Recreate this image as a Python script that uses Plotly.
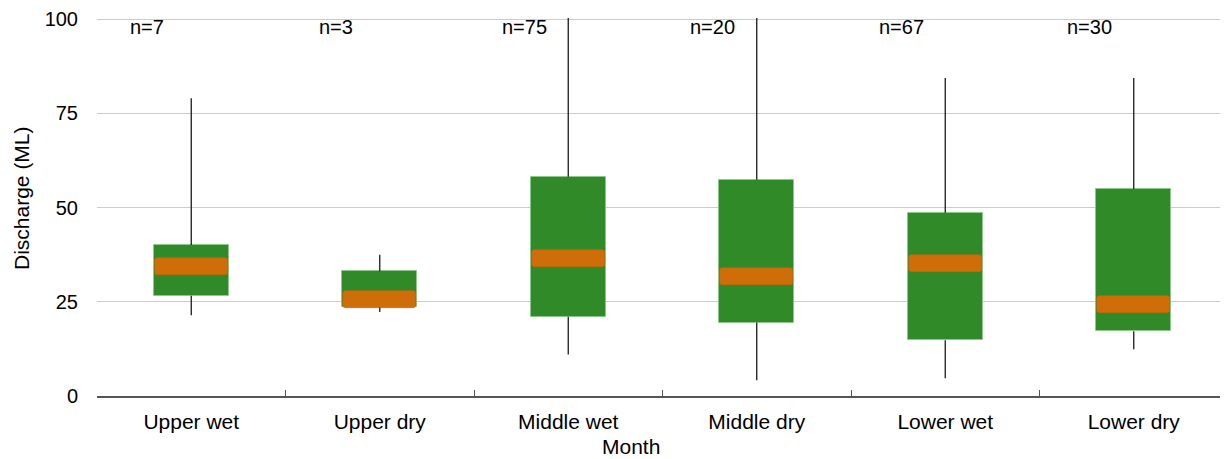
import plotly.graph_objects as go

# ---- data ----
categories = ["Upper wet", "Upper dry", "Middle wet", "Middle dry", "Lower wet", "Lower dry"]
counts = [7, 3, 75, 20, 67, 30]
whisker_low = [21.4, 22.3, 11.0, 4.2, 4.7, 12.4]
q1 = [26.6, 23.5, 21.0, 19.5, 14.8, 17.2]
median = [34.3, 25.7, 36.5, 31.7, 35.1, 24.3]
q3 = [40.1, 33.1, 58.2, 57.4, 48.6, 54.9]
whisker_high = [79.0, 37.5, 125.0, 115.0, 84.4, 84.4]
y_ticks = [0, 25, 50, 75, 100]

# ---- styles ----
GREEN = "#2f8a27"
ORANGE = "#cf6e09"
FONT = "Liberation Sans, Arial, Helvetica, sans-serif"
BAND = 4.5          # visual thickness of the median band (data units)
BOX_W = 0.40
BAND_W = 0.385

fig = go.Figure()

# whiskers (two segments per category, outside the box)
wx, wy = [], []
for c, lo, a, b, hi in zip(categories, whisker_low, q1, q3, whisker_high):
    wx += [c, c, None, c, c, None]
    wy += [lo, a, None, b, hi, None]
fig.add_trace(go.Scatter(x=wx, y=wy, mode="lines",
                         line=dict(color="#1a1a1a", width=1.3),
                         hoverinfo="skip", showlegend=False))

# boxes (interquartile range)
fig.add_trace(go.Bar(x=categories, y=[b - a for a, b in zip(q1, q3)], base=q1,
                     width=BOX_W, marker=dict(color=GREEN,
                                              line=dict(color="rgba(140,200,140,0.9)", width=1)),
                     showlegend=False))

# median bands
fig.add_trace(go.Bar(x=categories, y=[BAND] * len(categories),
                     base=[m - BAND / 2 for m in median],
                     width=BAND_W, marker=dict(color=ORANGE, cornerradius=3,
                                               line=dict(color="#c4670a", width=0.6)),
                     showlegend=False))

annotations = []
for c, n in zip(categories, counts):
    annotations.append(dict(x=c, y=100, xref="x", yref="y", text=f"n={n}",
                            showarrow=False, xshift=-44, yanchor="top", yshift=5,
                            font=dict(size=20, color="black", family=FONT)))
annotations.append(dict(x=0.472, y=0, xref="paper", yref="paper", text="Month",
                        showarrow=False, xanchor="center", yanchor="top", yshift=-37,
                        font=dict(size=21, color="black", family=FONT)))
annotations.append(dict(x=0, y=0.5, xref="paper", yref="paper", text="Discharge (ML)",
                        showarrow=False, textangle=-90, xanchor="center", yanchor="middle",
                        xshift=-76, yshift=9,
                        font=dict(size=21, color="black", family=FONT)))

# the page body has an 8px default margin, so the figure is sized to fit inside it
fig.update_layout(
    width=1220, height=451,
    margin=dict(l=89, r=0, t=10, b=63),
    plot_bgcolor="white", paper_bgcolor="white",
    barmode="overlay", bargap=0,
    font=dict(family=FONT, size=20, color="black"),
    annotations=annotations,
    xaxis=dict(type="category", range=[-0.5, 5.5], showline=True,
               linecolor="#555555", linewidth=1.5, ticks="inside", ticklen=6,
               tickcolor="#555555", tickwidth=1.2, tickson="boundaries",
               showgrid=False, ticklabelstandoff=6,
               tickfont=dict(size=21, color="black")),
    yaxis=dict(range=[0, 100.3], tickvals=y_ticks, showgrid=True,
               gridcolor="#cccccc", gridwidth=1, zeroline=False,
               showline=False, ticks="", ticklabelstandoff=18,
               tickfont=dict(size=20, color="black")),
)

fig.write_html("out.html")
